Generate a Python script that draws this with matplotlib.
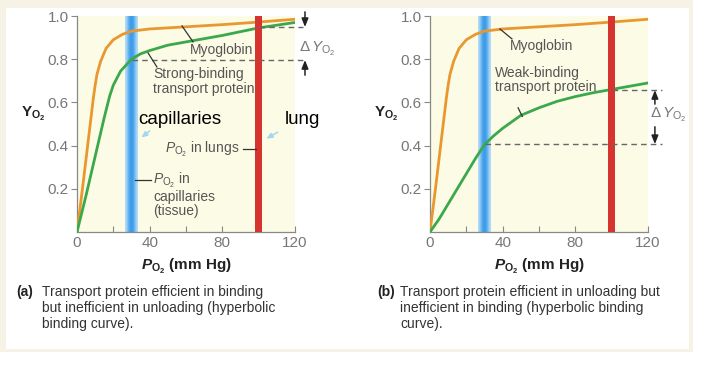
import numpy as np
import matplotlib

matplotlib.use("Agg")
import matplotlib.pyplot as plt
from matplotlib import font_manager
from matplotlib.colors import LinearSegmentedColormap
from matplotlib.patches import Rectangle

# ---- data ----
po2_myo = [0, 3, 6, 9, 10, 11, 13, 16, 20, 25, 30, 40, 60, 80, 100, 120]
y_myo = [0, 0.2, 0.41, 0.62, 0.68, 0.73, 0.79, 0.85, 0.89, 0.915, 0.93, 0.94, 0.95, 0.96, 0.972, 0.985]

po2_strong = [0, 5, 10, 15, 18, 20, 24, 30, 35, 40, 50, 60, 80, 100, 120]
y_strong = [0, 0.17, 0.35, 0.53, 0.63, 0.68, 0.745, 0.8, 0.825, 0.84, 0.865, 0.88, 0.91, 0.945, 0.97]

po2_weak = [0, 5, 10, 15, 20, 25, 30, 35, 40, 50, 60, 70, 80, 90, 100, 110, 120]
y_weak = [0, 0.06, 0.13, 0.2, 0.27, 0.34, 0.405, 0.445, 0.48, 0.54, 0.575, 0.605, 0.627, 0.645, 0.66, 0.675, 0.69]

po2_capillaries = 30
po2_lungs = 100

# Y at lungs / capillaries for the delta markers
delta_a = (0.949, 0.796)
delta_b = (0.657, 0.407)

x_ticks = [0, 20, 40, 60, 80, 100, 120]
x_tick_labels = ["0", "", "40", "", "80", "", "120"]
y_ticks = [0.2, 0.4, 0.6, 0.8, 1.0]
y_tick_labels = ["0.2", "0.4", "0.6", "0.8", "1.0"]

captions = [
    ("(a)", "Transport protein efficient in binding\nbut inefficient in unloading (hyperbolic\nbinding curve)."),
    ("(b)", "Transport protein efficient in unloading but\ninefficient in binding (hyperbolic binding\ncurve)."),
]

# ---- fonts ----
names = {f.name for f in font_manager.fontManager.ttflist}
base = "Liberation Sans Narrow" if "Liberation Sans Narrow" in names else "Liberation Sans"
plt.rcParams["font.family"] = [base, "DejaVu Sans"]
plt.rcParams["mathtext.fontset"] = "custom"
plt.rcParams["mathtext.rm"] = base
plt.rcParams["mathtext.it"] = base + ":italic"
plt.rcParams["mathtext.bf"] = base + ":bold"
plt.rcParams["mathtext.bfit"] = base + ":italic:bold"
plt.rcParams["mathtext.sf"] = base

ORANGE = "#e8982f"
GREEN = "#3ba84c"
RED = "#d6342f"
AXBG = "#fcfbe6"
TXT = "#555555"
TICK = "#777777"

fig = plt.figure(figsize=(7.06, 3.70), dpi=100)

# cream frame around the panel
fig.patches.append(Rectangle((0, 18 / 370), 693 / 706, 352 / 370, transform=fig.transFigure,
                             facecolor="#f6f2e5", edgecolor="none", zorder=-10))
fig.patches.append(Rectangle((6 / 706, 21 / 370), 683 / 706, 341 / 370, transform=fig.transFigure,
                             facecolor="white", edgecolor="none", zorder=-9))

blue_cmap = LinearSegmentedColormap.from_list("cap", ["#b8ddf8", "#4ea8ee", "#3795e4", "#4ea8ee", "#b8ddf8"])


def setup_axes(left_px):
    ax = fig.add_axes([left_px / 706, (370 - 232) / 370, 218 / 706, 216 / 370])
    ax.set_facecolor(AXBG)
    for s in ("top", "right"):
        ax.spines[s].set_visible(False)
    for s in ("left", "bottom"):
        ax.spines[s].set_color("#888888")
        ax.spines[s].set_linewidth(0.9)
    ax.set_xticks(x_ticks)
    ax.set_xticklabels(x_tick_labels)
    ax.set_yticks(y_ticks)
    ax.set_yticklabels(y_tick_labels)
    ax.tick_params(axis="x", direction="in", length=4, color="#888888", labelcolor=TICK, labelsize=11, pad=3)
    ax.tick_params(axis="y", direction="out", length=4, color="#888888", labelcolor=TICK, labelsize=11, pad=2)

    grad = np.array([[0.0, 0.25, 0.5, 0.75, 1.0]])
    ax.imshow(grad, cmap=blue_cmap, extent=[po2_capillaries - 3.4, po2_capillaries + 3.4, 0, 1],
              aspect="auto", zorder=1, interpolation="bicubic")
    ax.set_xlim(0, 120)
    ax.set_ylim(0, 1.0)

    ax.set_ylabel(r"$\mathbf{Y_{O_2}}$", rotation=0, fontsize=11, color="#222222")
    ax.yaxis.set_label_coords(-0.2, 0.505)
    ax.set_xlabel(r"$\mathbfit{P}_{\mathbf{O_2}}$ (mm Hg)", fontsize=11, fontweight="bold",
                  color="#222222", labelpad=5)
    return ax


def delta_marker(ax, y_hi, y_lo, x_start_hi, x_start_lo, x_end, x_arrow, inside):
    ax.plot([x_start_hi, x_end], [y_hi, y_hi], ls=(0, (4, 3)), color="#666666", lw=1.0,
            clip_on=False, zorder=5)
    ax.plot([x_start_lo, x_end], [y_lo, y_lo], ls=(0, (4, 3)), color="#666666", lw=1.0,
            clip_on=False, zorder=5)
    akw = dict(arrowstyle="-|>,head_length=0.5,head_width=0.2", color="#222222", lw=1.1,
               shrinkA=0, shrinkB=0)
    label = r"$\Delta\,Y_{\mathrm{O_2}}$"
    if inside:
        ax.annotate("", xy=(x_arrow, y_hi), xytext=(x_arrow, y_hi - 0.065),
                    arrowprops=akw, annotation_clip=False)
        ax.annotate("", xy=(x_arrow, y_lo), xytext=(x_arrow, y_lo + 0.08),
                    arrowprops=akw, annotation_clip=False)
        ax.text(x_arrow - 2.8, (y_hi + y_lo) / 2 + 0.01, label, fontsize=11,
                color="#777777", va="center", ha="left")
    else:
        ax.annotate("", xy=(x_arrow, y_hi), xytext=(x_arrow, y_hi + 0.07),
                    arrowprops=akw, annotation_clip=False)
        ax.annotate("", xy=(x_arrow, y_lo), xytext=(x_arrow, y_lo - 0.07),
                    arrowprops=akw, annotation_clip=False)
        ax.text(x_arrow - 3.2, (y_hi + y_lo) / 2 - 0.025, label, fontsize=11,
                color="#777777", va="center", ha="left")


# ---------------- panel (a) ----------------
ax1 = setup_axes(77)
ax1.plot(po2_myo, y_myo, color=ORANGE, lw=2.0, zorder=3, solid_joinstyle="round")
ax1.plot(po2_strong, y_strong, color=GREEN, lw=2.0, zorder=3, solid_joinstyle="round")
ax1.axvspan(po2_lungs - 1.8, po2_lungs + 1.8, color=RED, zorder=4, lw=0)
delta_marker(ax1, delta_a[0], delta_a[1], po2_lungs, po2_capillaries, 124.5, 125.5, inside=False)

ax1.plot([57.8, 63.9], [0.954, 0.88], color="#333333", lw=0.9, zorder=6)
ax1.text(62.2, 0.843, "Myoglobin", fontsize=10, color=TXT, va="center")
ax1.plot([39.1, 44.0], [0.829, 0.764], color="#333333", lw=0.9, zorder=6)
ax1.text(41.8, 0.697, "Strong-binding\ntransport protein", fontsize=10, color=TXT, va="center",
         linespacing=1.05)

ax1.text(33.6, 0.523, "capillaries", fontsize=13.5, color="black", va="center",
         family=["Liberation Sans", "DejaVu Sans"], zorder=7)
ax1.text(114.5, 0.519, "lung", fontsize=13.5, color="black", va="center",
         family=["Liberation Sans", "DejaVu Sans"], clip_on=False, zorder=7)
small_arrow = dict(arrowstyle="-|>,head_length=0.35,head_width=0.15", color="#a6d6ef", lw=1.1,
                   shrinkA=0, shrinkB=0)
ax1.annotate("", xy=(35.4, 0.437), xytext=(40.0, 0.468), arrowprops=small_arrow, zorder=7)
ax1.annotate("", xy=(104.2, 0.432), xytext=(110.5, 0.462), arrowprops=small_arrow, zorder=7)

ax1.text(89.5, 0.384, r"$P_{\mathrm{O_2}}$ in lungs", fontsize=10, color=TXT, va="center", ha="right")
ax1.plot([91.4, 98.5], [0.384, 0.384], color="#333333", lw=0.9, zorder=6)
ax1.plot([32.0, 41.0], [0.241, 0.241], color="#333333", lw=0.9, zorder=6)
ax1.text(41.8, 0.172, r"$P_{\mathrm{O_2}}$ in" + "\ncapillaries\n(tissue)", fontsize=10, color=TXT,
         va="center", linespacing=1.0)

# ---------------- panel (b) ----------------
ax2 = setup_axes(430)
ax2.plot(po2_myo, y_myo, color=ORANGE, lw=2.0, zorder=3, solid_joinstyle="round")
ax2.plot(po2_weak, y_weak, color=GREEN, lw=2.0, zorder=3, solid_joinstyle="round")
ax2.axvspan(po2_lungs - 1.8, po2_lungs + 1.8, color=RED, zorder=4, lw=0)
delta_marker(ax2, delta_b[0], delta_b[1], po2_lungs, po2_capillaries, 127.7, 123.8, inside=True)

ax2.plot([38.5, 45.1], [0.94, 0.894], color="#333333", lw=0.9, zorder=6)
ax2.text(44.0, 0.861, "Myoglobin", fontsize=10, color=TXT, va="center")
ax2.text(35.8, 0.704, "Weak-binding\ntransport protein", fontsize=10, color=TXT, va="center",
         linespacing=1.05)
ax2.plot([48.5, 50.8], [0.575, 0.535], color="#333333", lw=0.9, zorder=6)

# ---------------- captions ----------------
for (tag, body), (x_tag, x_body) in zip(captions, [(16, 42), (377, 400)]):
    fig.text(x_tag / 706, 1 - 285 / 370, tag, fontsize=10, fontweight="bold", color="#222222", va="top")
    fig.text(x_body / 706, 1 - 285 / 370, body, fontsize=10, color="#333333", va="top",
             linespacing=1.2)

fig.savefig("out.png", dpi=100)
